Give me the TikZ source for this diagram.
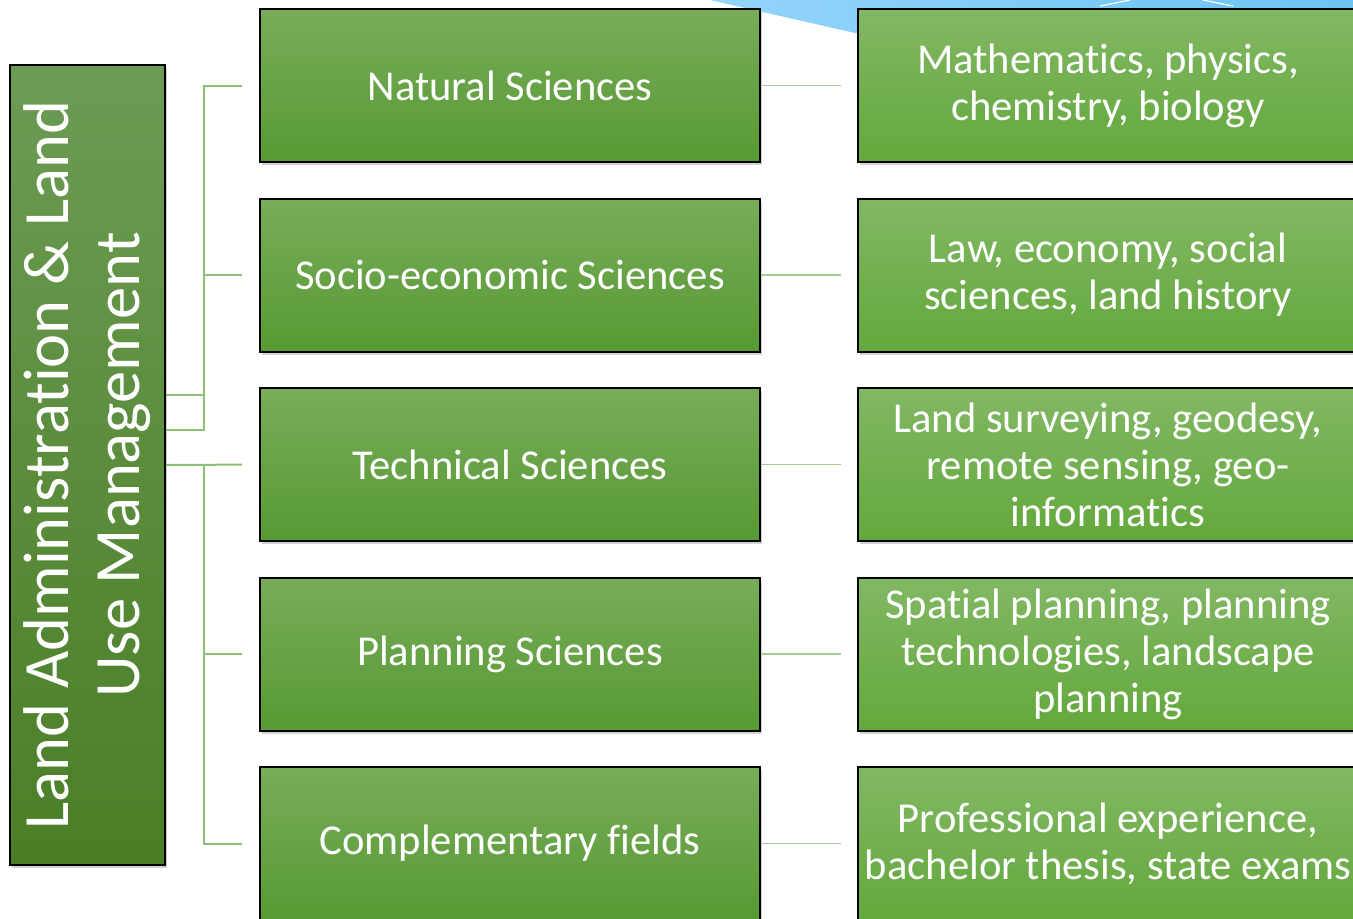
\documentclass[tikz,border=0pt]{standalone}
\usepackage{fontspec}
\setmainfont{Carlito}[Ligatures=NoCommon]
\usetikzlibrary{shadows}

\definecolor{rootTop}{HTML}{6C9C54}
\definecolor{rootBot}{HTML}{4A7E26}
\definecolor{fieldTop}{HTML}{78AC5A}
\definecolor{fieldBot}{HTML}{579A33}
\definecolor{topicTop}{HTML}{82B864}
\definecolor{topicBot}{HTML}{63A83C}
\definecolor{linkGreen}{HTML}{8CC076}
\definecolor{skyA}{HTML}{94D4FA}
\definecolor{skyB}{HTML}{6CC4F4}

\tikzset{
  boxshadow/.style={drop shadow={shadow xshift=1.2pt, shadow yshift=-1.5pt, opacity=0.35}},
  field/.style={draw=black, line width=1pt, top color=fieldTop, bottom color=fieldBot,
    minimum width=250pt, minimum height=76.5pt, inner sep=0pt, text=white,
    font=\fontsize{21.3}{23.5}\selectfont, align=center, boxshadow},
  topic/.style={field, top color=topicTop, bottom color=topicBot},
  link/.style={draw=linkGreen, line width=1pt},
  sidelink/.style={draw=linkGreen!80, line width=0.7pt, shorten >=8pt},
}

\begin{document}
\begin{tikzpicture}[x=0.5pt, y=-0.5pt]
\path[use as bounding box, clip] (0,0) rectangle (1353,918);

% sky corner behind the right column
\shade[left color=skyA, right color=skyB] (710,0) -- (1353,0) -- (1353,30) -- (855,33) -- cycle;
\draw[white, line width=0.6pt] (1100,6) -- (1130,0);
\draw[white, line width=0.6pt] (1203,0) -- (1233,6);

% root
\node[draw=black, line width=1pt, top color=rootTop, bottom color=rootBot,
  minimum width=77.5pt, minimum height=400pt, inner sep=0pt, boxshadow] (lam) at (87.5,465) {};
\node[rotate=90, text=white, align=center, font=\fontsize{32.3}{35.5}\selectfont] (lamtext) at (lam.center)
  {Land Administration \& Land\\Use Management};

% fields
\node[field] (nat) at (510,85.5) {Natural Sciences};
\node[field] (soc) at (510,275) {Socio-economic Sciences};
\node[field] (tec) at (510,464.5) {Technical Sciences};
\node[field] (pla) at (510,654) {Planning Sciences};
\node[field] (com) at (510,843.5) {Complementary fields};

% topics
\node[topic] (math) at (1108,85.5) {Mathematics, physics,\\chemistry, biology};
\node[topic] (law) at (1108,275) {Law, economy, social\\sciences, land history};
\node[topic] (surv) at (1108,464.5) {Land surveying, geodesy,\\remote sensing, geo-\\informatics};
\node[topic] (spat) at (1108,654) {Spatial planning, planning\\technologies, landscape\\planning};
\node[topic] (prof) at (1108,843.5) {Professional experience,\\bachelor thesis, state exams};

% root to fields
\draw[link, shorten >=8.5pt] (lam.east) ++(0,-35) -- ++(38,0) |- (nat.west);
\draw[link, shorten >=8.5pt] (lam.east) ++(0,-70) -- ++(38,0) |- (soc.west);
\draw[link, shorten >=8.5pt] (lam.east) -- (tec.west);
\draw[link, shorten >=8.5pt] (lam.east) ++(38,0) |- (pla.west);
\draw[link, shorten >=8.5pt] (lam.east) ++(38,0) |- (com.west);

% fields to topics
\draw[sidelink] (nat) -- (math);
\draw[sidelink] (soc) -- (law);
\draw[sidelink] (tec) -- (surv);
\draw[sidelink] (pla) -- (spat);
\draw[sidelink] (com) -- (prof);
\end{tikzpicture}
\end{document}
